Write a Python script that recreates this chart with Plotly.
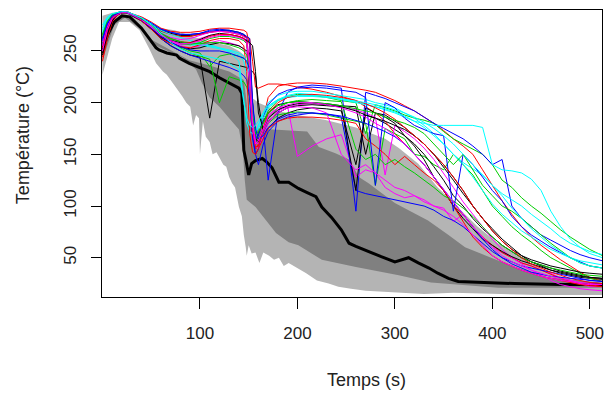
import plotly.graph_objects as go

# ---- time grid shared by all test curves (s) ----
temps = [0, 5, 10, 15, 20, 25, 30,
         40, 50, 60, 70, 80, 90, 100, 110, 120, 130, 140,
         145, 148, 151, 154, 157, 160,
         165, 170, 180, 190, 200,
         215, 230, 245,
         260, 270, 280, 290, 300, 310, 320, 330, 340, 350, 360, 370, 380, 390,
         400, 410, 420, 430, 440, 450, 460, 470, 480, 490, 500,
         513]

# ---- measured curves (°C) ----
essai_01 = [262,276,283,286,288,287,285, 281,276,270,267,265,265,266,268,270,270,268, 266,262,200,168,160,170, 182,190,198,200,201, 200,199,197,
            196,150,190,188,182,176,168,160,150,138,125,112,100,88,78,68,60,52,46,42,38,35,33,31,30, 29]
essai_02 = [250,272,282,286,288,288,286, 283,278,272,269,268,268,269,271,272,272,271, 270,268,255,180,155,160, 185,205,216,218,219, 219,218,216,
            214,212,210,206,202,197,192,186,180,173,165,158,150,135,120,105,92,80,70,62,55,48,42,36,31, 27]
essai_03 = [258,274,282,285,287,287,285, 280,272,263,258,254,250,248,235,245,247,245, 243,240,225,185,165,170, 180,192,202,206,208, 207,205,202,
            200,170,198,195,192,188,185,183,180,172,165,160,155,150,140,125,118,108,100,93,85,77,70,64,58, 52]
essai_04 = [255,273,282,286,288,287,285, 282,277,271,268,266,266,267,269,270,269,267, 265,262,220,170,150,155, 175,125,190,210,215, 217,216,214,
            95,210,207,204,200,196,192,186,180,175,170,165,158,150,140,145,100,88,80,72,67,62,57,53,50, 47]
essai_05 = [268,280,285,287,288,288,286, 282,276,268,262,258,256,255,254,252,250,246, 240,225,195,175,170,178, 188,196,203,207,209, 208,206,204,
            201,198,196,193,190,186,182,180,178,178,178,178,178,176,140,135,134,132,126,115,95,80,68,60,54, 50]
essai_06 = [262,277,284,287,288,287,285, 280,273,265,260,256,258,262,265,266,266,264, 262,258,230,175,160,165, 178,188,195,196,148, 158,165,169,
            128,135,132,118,112,108,110,104,100,98,85,92,80,70,60,55,50,45,42,38,35,30,28,25,22, 22]
essai_07 = [248,268,280,285,287,287,284, 279,271,262,255,250,246,244,185,240,238,236, 235,234,232,230,226,200, 170,175,185,190,193, 195,194,192,
            140,188,185,180,174,168,160,150,138,125,110,100,88,78,70,62,56,50,46,43,40,37,35,33,31, 30]
essai_08 = [240,262,278,284,287,287,285, 280,275,269,266,264,264,266,268,269,268,266, 264,263,262,240,215,214, 216,218,218,217,215, 213,210,206,
            202,196,190,182,170,160,150,140,128,115,100,92,80,70,62,55,50,45,42,38,34,30,27,25,24, 22]
essai_09 = [265,278,284,286,288,287,285, 281,274,265,258,253,248,245,242,200,225,222, 220,215,205,180,165,160, 170,180,188,190,191, 190,188,185,
            182,180,120,175,170,165,150,148,140,135,150,140,130,115,100,90,80,72,65,57,50,45,40,35,30, 27]
essai_10 = [256,274,283,286,288,287,285, 280,272,262,255,250,246,243,240,237,234,230, 226,222,205,165,150,140, 160,172,182,186,188, 190,189,186,
            115,112,110,108,106,104,102,100,96,90,86,80,72,64,56,50,46,42,40,38,36,34,32,30,28, 27]
essai_11 = [272,282,286,287,288,288,286, 282,277,270,266,263,260,258,256,253,249,240, 200,180,172,170,172,178, 190,200,207,210,211, 211,209,207,
            205,203,200,198,195,190,185,178,170,160,150,142,136,130,120,112,106,100,92,85,78,70,64,60,56, 53]
essai_12 = [259,275,283,286,288,287,285, 280,273,264,259,255,253,255,258,260,258,255, 252,248,215,172,158,155, 168,180,192,196,198, 199,198,196,
            193,190,186,130,178,172,165,156,145,132,118,104,92,80,68,58,50,44,38,33,28,24,22,20,19, 18]
essai_13 = [252,270,281,285,287,287,285, 280,272,263,258,254,252,253,256,258,257,255, 252,250,248,200,165,162, 172,182,190,195,197, 198,197,196,
            115,195,190,186,180,168,158,145,128,115,100,88,78,68,62,56,51,47,44,41,38,36,34,32,31, 30]
essai_14 = [244,265,279,285,287,287,285, 279,271,262,257,254,253,256,260,262,262,260, 255,230,170,152,150,156, 166,175,182,185,186, 186,185,183,
            180,165,158,150,140,148,140,132,125,115,100,85,70,60,52,46,42,38,35,32,30,28,26,24,23, 22]
essai_15 = [263,277,284,286,288,287,285, 281,274,266,261,257,256,258,262,264,264,262, 260,257,240,190,168,165, 175,185,195,200,202, 203,202,201,
            155,145,150,140,145,138,132,125,118,110,105,98,90,80,70,62,56,50,46,43,40,38,36,34,33, 32]
essai_16 = [260,276,284,287,288,288,286, 282,277,271,268,266,266,267,270,271,270,268, 266,264,262,200,165,168, 185,198,208,212,214, 215,214,212,
            210,205,120,200,195,185,178,174,170,168,95,150,140,128,115,105,90,80,72,66,60,55,50,46,42, 40]
essai_17 = [270,281,285,287,288,288,286, 282,276,268,263,259,257,256,255,253,251,248, 245,240,228,190,172,175, 185,195,202,205,206, 206,205,203,
            200,198,196,194,191,187,182,176,168,160,150,140,128,115,102,92,84,76,70,64,58,54,50,47,45, 43]
essai_18 = [255,273,282,286,288,287,285, 281,274,267,263,261,262,265,268,269,268,266, 264,262,240,185,162,160, 172,182,190,195,196, 195,190,150,
            135,140,132,125,118,115,110,106,100,96,90,82,72,62,52,46,42,38,35,32,30,28,27,25,24, 24]
essai_19 = [246,266,279,285,287,287,285, 280,272,264,260,258,258,261,265,267,266,264, 262,260,258,255,230,190, 175,185,193,197,199, 200,198,196,
            192,188,185,182,178,174,168,160,150,140,128,115,100,88,76,66,58,52,48,45,42,40,38,36,35, 34]
essai_20 = [253,271,282,286,288,288,286, 281,275,267,262,259,258,260,264,266,266,264, 262,259,230,175,157,158, 175,190,200,205,207, 208,207,205,
            202,199,195,190,184,176,168,160,150,140,128,115,100,88,76,66,58,50,44,40,36,33,30,28,26, 25]
essai_21 = [266,279,285,287,288,287,285, 281,275,267,262,259,257,257,258,258,256,253, 250,246,232,190,170,172, 180,190,197,200,201, 200,199,197,
            194,192,190,186,183,180,176,170,160,150,140,150,135,120,110,100,95,88,80,72,64,57,50,45,42, 40]
essai_22 = [262,277,284,286,288,287,285, 280,272,264,258,254,251,250,250,250,248,245, 243,240,232,200,175,165, 168,176,184,188,190, 190,189,187,
            183,180,176,172,167,160,150,140,128,116,104,92,80,68,58,50,44,40,36,34,32,31,30,29,28, 27]
essai_23 = [275,283,286,287,288,288,286, 282,275,266,258,252,248,246,244,242,238,232, 200,185,178,176,178,182, 190,197,203,206,207, 207,206,204,
            202,200,198,196,193,190,186,181,175,168,160,150,140,130,120,110,98,88,78,70,62,56,50,45,42, 40]
essai_24 = [250,270,281,285,287,287,285, 280,273,265,260,257,257,260,263,265,265,263, 261,258,235,180,160,163, 175,186,195,198,200, 200,198,195,
            190,186,180,175,168,160,150,140,128,116,104,92,80,70,60,52,46,42,38,35,32,30,28,26,25, 24]

essais = [essai_01, essai_02, essai_03, essai_04, essai_05, essai_06, essai_07, essai_08,
          essai_09, essai_10, essai_11, essai_12, essai_13, essai_14, essai_15, essai_16,
          essai_17, essai_18, essai_19, essai_20, essai_21, essai_22, essai_23, essai_24]
for e in essais:
    assert len(e) == len(temps), len(e)

couleurs = ["black", "#FF0000", "#00CD00", "#0000FF", "#00FFFF", "#FF00FF"]

# ---- simulated envelopes ----
clair_haut_x = [0, 10, 22, 35, 48, 60, 74, 86, 99, 115, 130, 140, 145, 148, 150, 160, 180, 200, 230, 260, 290, 304, 324, 344, 365, 385, 406, 433, 457, 484, 513]
clair_haut_y = [284, 287, 288, 282, 275, 272, 270, 266, 262, 258, 255, 250, 246, 225, 207, 200, 192, 188, 183, 176, 165, 156, 141, 118, 99, 80, 64, 48, 36, 28, 25]
clair_bas_x = [0, 5, 10, 17, 28, 38, 48, 55, 62, 66, 72, 76, 82, 86, 90, 93, 96, 99, 100, 103, 104, 106, 110, 113, 117, 120, 124, 127, 130, 133, 136, 140, 143, 145, 147, 148, 150, 153, 157, 161, 165, 171, 176, 181, 186, 191, 200, 209, 220, 232, 242, 255, 270, 290, 304, 330, 360, 406, 450, 513]
clair_bas_y = [227, 245, 262, 278, 278, 270, 252, 238, 230, 227, 220, 214, 206, 200, 196, 178, 188, 185, 150, 182, 178, 167, 162, 150, 152, 147, 140, 138, 128, 122, 118, 99, 90, 72, 60, 52, 62, 54, 55, 45, 55, 52, 48, 50, 42, 45, 40, 35, 28, 25, 22, 20, 18, 17, 16, 15, 16, 15, 14, 14]
fonce_haut_x = [0, 12, 23, 35, 48, 69, 89, 110, 130, 145, 148, 150, 161, 175, 191, 210, 222, 239, 253, 263, 273, 286, 300, 314, 334, 355, 372, 388, 423, 457, 513]
fonce_haut_y = [268, 280, 285, 275, 262, 251, 241, 236, 230, 222, 200, 178, 175, 174, 173, 172, 157, 151, 145, 128, 122, 113, 103, 96, 86, 72, 60, 54, 41, 31, 26]
fonce_bas_x = [0, 12, 23, 38, 53, 69, 82, 96, 102, 110, 120, 130, 140, 144, 146, 148, 157, 168, 178, 191, 201, 225, 260, 304, 337, 406, 513]
fonce_bas_y = [241, 275, 282, 272, 256, 249, 244, 232, 219, 205, 196, 185, 174, 154, 125, 106, 99, 86, 74, 65, 62, 48, 41, 33, 26, 21, 21]
mediane_x = [0, 5, 12, 20, 28, 40, 48, 55, 58, 66, 76, 79, 89, 99, 110, 120, 133, 140, 143, 145, 147, 150, 153, 157, 164, 168, 174, 181, 191, 201, 210, 219, 225, 235, 245, 253, 260, 270, 286, 300, 307, 314, 324, 335, 344, 355, 365, 388, 423, 470, 513]
mediane_y = [250, 265, 278, 284, 283, 272, 262, 253, 251, 248, 246, 243, 238, 234, 230, 224, 217, 214, 209, 154, 145, 130, 141, 144, 146, 143, 137, 123, 123, 117, 113, 109, 99, 89, 77, 64, 61, 57, 51, 46, 48, 50, 45, 40, 35, 30, 27, 26, 25, 24, 24]

x_ticks = [100, 200, 300, 400, 500]
y_ticks = [50, 100, 150, 200, 250]

fig = go.Figure()
fig.add_trace(go.Scatter(x=clair_haut_x + clair_bas_x[::-1], y=clair_haut_y + clair_bas_y[::-1],
                         fill="toself", fillcolor="#B4B4B4", line=dict(width=0), mode="lines",
                         hoverinfo="skip", showlegend=False))
fig.add_trace(go.Scatter(x=fonce_haut_x + fonce_bas_x[::-1], y=fonce_haut_y + fonce_bas_y[::-1],
                         fill="toself", fillcolor="#808080", line=dict(width=0), mode="lines",
                         hoverinfo="skip", showlegend=False))
fig.add_trace(go.Scatter(x=mediane_x, y=mediane_y, mode="lines",
                         line=dict(color="black", width=3), showlegend=False))
for i, e in enumerate(essais):
    fig.add_trace(go.Scatter(x=temps, y=e, mode="lines",
                             line=dict(color=couleurs[i % len(couleurs)], width=1),
                             showlegend=False))

font_family = "Liberation Sans, Arial, sans-serif"
fig.update_layout(
    width=609, height=397,
    margin=dict(l=102, r=5, t=10, b=100),
    plot_bgcolor="white", paper_bgcolor="white",
    font=dict(family=font_family, size=16, color="#222222"),
    showlegend=False,
)
fig.update_xaxes(range=[-0.5, 512.5], tickvals=x_ticks, ticks="outside", ticklen=11,
                 tickcolor="black", showline=True, linecolor="black", linewidth=1,
                 mirror=True, showgrid=False, zeroline=False,
                 tickfont=dict(size=17), ticklabelstandoff=10)
fig.update_yaxes(range=[12, 289.6], tickvals=y_ticks, ticks="outside", ticklen=10,
                 tickcolor="black", showline=True, linecolor="black", linewidth=1,
                 mirror=True, showgrid=False, zeroline=False, tickangle=-90,
                 tickfont=dict(size=17), ticklabelstandoff=8)
fig.add_annotation(text="Temps (s)", xref="paper", yref="paper", x=0.529, y=-0.289,
                   xanchor="center", yanchor="middle", showarrow=False,
                   font=dict(size=18, family=font_family, color="#222222"))
fig.add_annotation(text="Température (°C)", xref="paper", yref="paper", x=-0.158, y=0.564,
                   xanchor="center", yanchor="middle", showarrow=False, textangle=-90,
                   font=dict(size=18, family=font_family, color="#222222"))

# remove the default page margin so the figure sits at the window's top-left corner
fig.write_html("out.html",
               config={"displayModeBar": False, "staticPlot": True},
               post_script="document.body.style.margin='0';document.body.style.overflow='hidden';")
